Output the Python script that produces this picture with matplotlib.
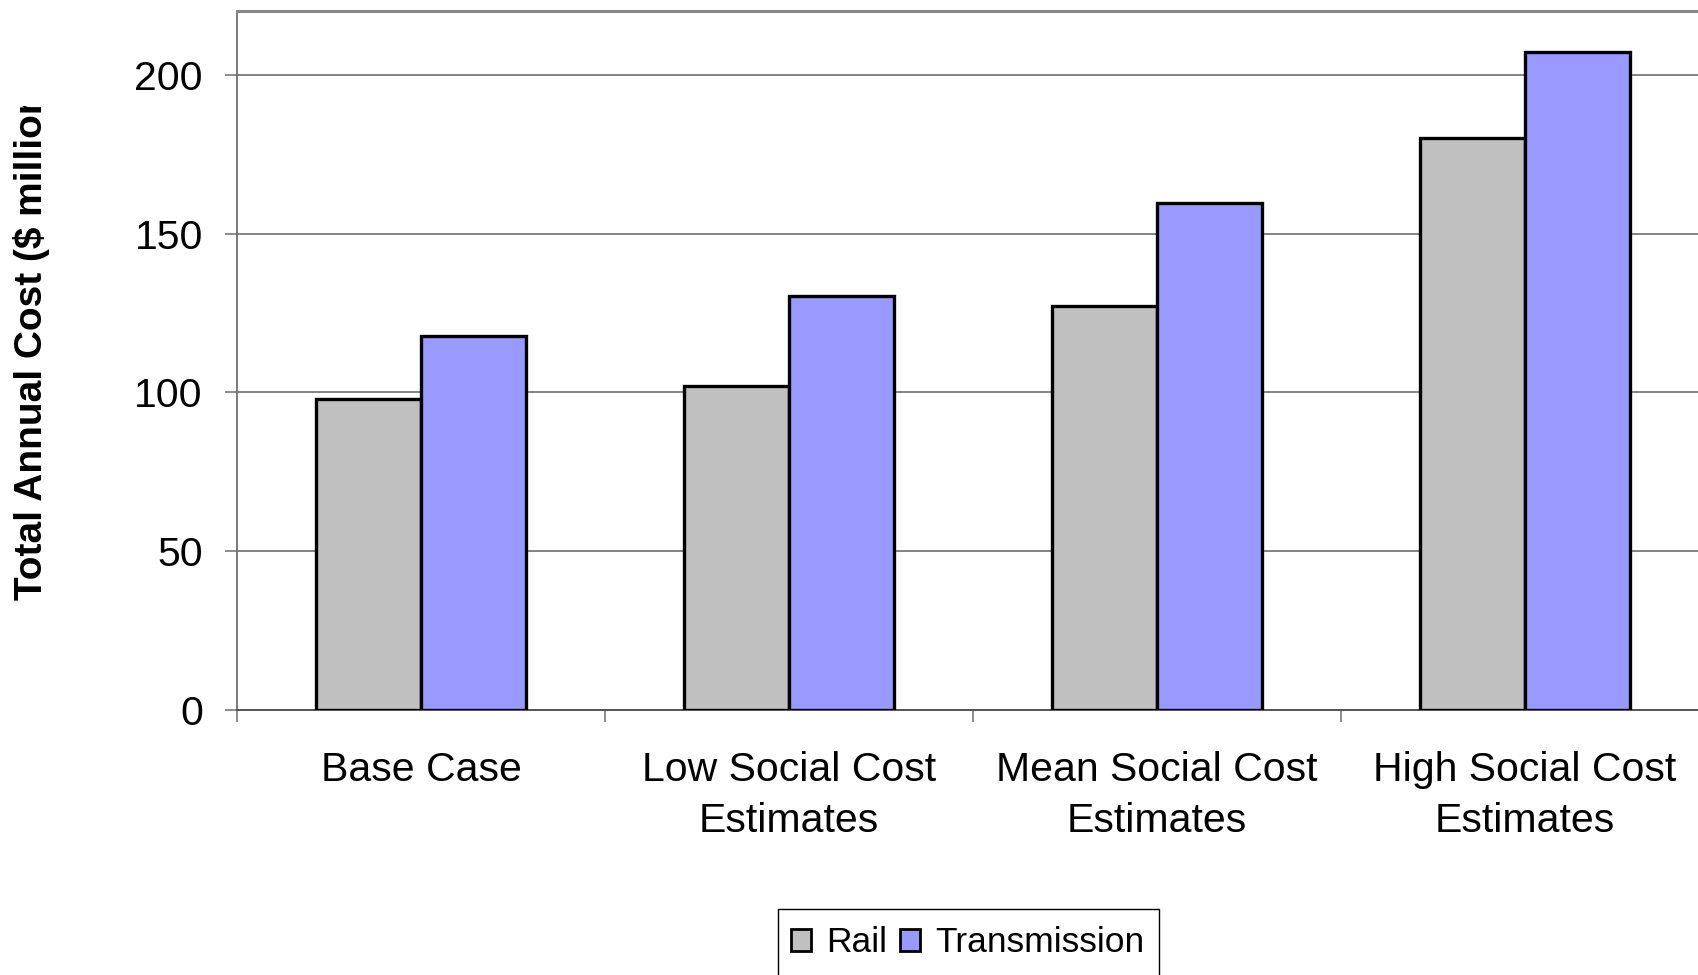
import numpy as np
import matplotlib
matplotlib.use("Agg")
from matplotlib import pyplot as plt
from matplotlib.patches import Patch, Rectangle
from matplotlib.transforms import Bbox

plt.rcParams['font.family'] = ['Liberation Sans', 'DejaVu Sans']

categories = ['Base Case', 'Low Social Cost\nEstimates', 'Mean Social Cost\nEstimates',
              'High Social Cost\nEstimates']
rail = [98.0, 102.0, 127.3, 180.2]
transmission = [117.7, 130.2, 159.5, 207.1]
series_names = ['Rail', 'Transmission']
yticks = [0, 50, 100, 150, 200]

W, H = 1699, 975
fig = plt.figure(figsize=(W / 100, H / 100), dpi=100)
# plot area runs off the right edge of the canvas
ax = fig.add_axes([237 / W, 1 - 710.4 / H, 4 * 368 / W, (710.4 - 11) / H])

x = np.arange(len(categories))
w = 1 / 3.5
ax.bar(x - w / 2, rail, w, color='#C0C0C0', edgecolor='black', linewidth=2.4, zorder=3)
ax.bar(x + w / 2, transmission, w, color='#9999FF', edgecolor='black', linewidth=2.4, zorder=3)

ax.set_xlim(-0.5, len(categories) - 0.5)
ax.set_ylim(0, 220)

ax.set_yticks(yticks)
ax.yaxis.grid(True, color='#6e6e6e', linewidth=1.2, zorder=1)
ax.set_axisbelow(True)
ax.tick_params(axis='y', direction='out', length=8.6, width=1.1, color='#6e6e6e',
               pad=16, labelsize=29.5)

ax.set_xticks(x)
ax.set_xticklabels(categories, fontsize=29.5, linespacing=1.46)
ax.tick_params(axis='x', which='major', length=0, pad=29)
ax.set_xticks(np.arange(len(categories) + 1) - 0.5, minor=True)
ax.tick_params(axis='x', which='minor', direction='out', length=8.6, width=1.1, color='#6e6e6e')

ax.spines['right'].set_visible(False)
ax.spines['top'].set_color('#888888')
ax.spines['top'].set_linewidth(2.2)
ax.spines['left'].set_color('#6e6e6e')
ax.spines['left'].set_linewidth(1.3)
ax.spines['bottom'].set_color('#555555')
ax.spines['bottom'].set_linewidth(1.4)

# y label, cut off near the top
ylab = fig.text(50 / W, 1 - 600 / H, 'Total Annual Cost ($ million)', rotation=90,
                ha='right', va='bottom', fontsize=28, fontweight='bold')
ylab.set_clip_box(Bbox([[0, 0], [W, H - 106]]))
ylab.set_clip_on(True)

handles = [Patch(facecolor='#C0C0C0', edgecolor='black', linewidth=2),
           Patch(facecolor='#9999FF', edgecolor='black', linewidth=2)]
fig.legend(handles, series_names, loc='center left', bbox_to_anchor=(791 / W, 1 - 943 / H),
           ncol=2, frameon=False, fontsize=25.5, borderpad=0, borderaxespad=0,
           handlelength=0.56, handleheight=0.56, handletextpad=0.42, columnspacing=0.38)
fig.add_artist(Rectangle((778 / W, -0.05), (1159 - 778) / W, (1 - 909 / H) + 0.05,
                         transform=fig.transFigure, fill=False, edgecolor='black',
                         linewidth=1.0))

fig.savefig('out.png', dpi=100)
